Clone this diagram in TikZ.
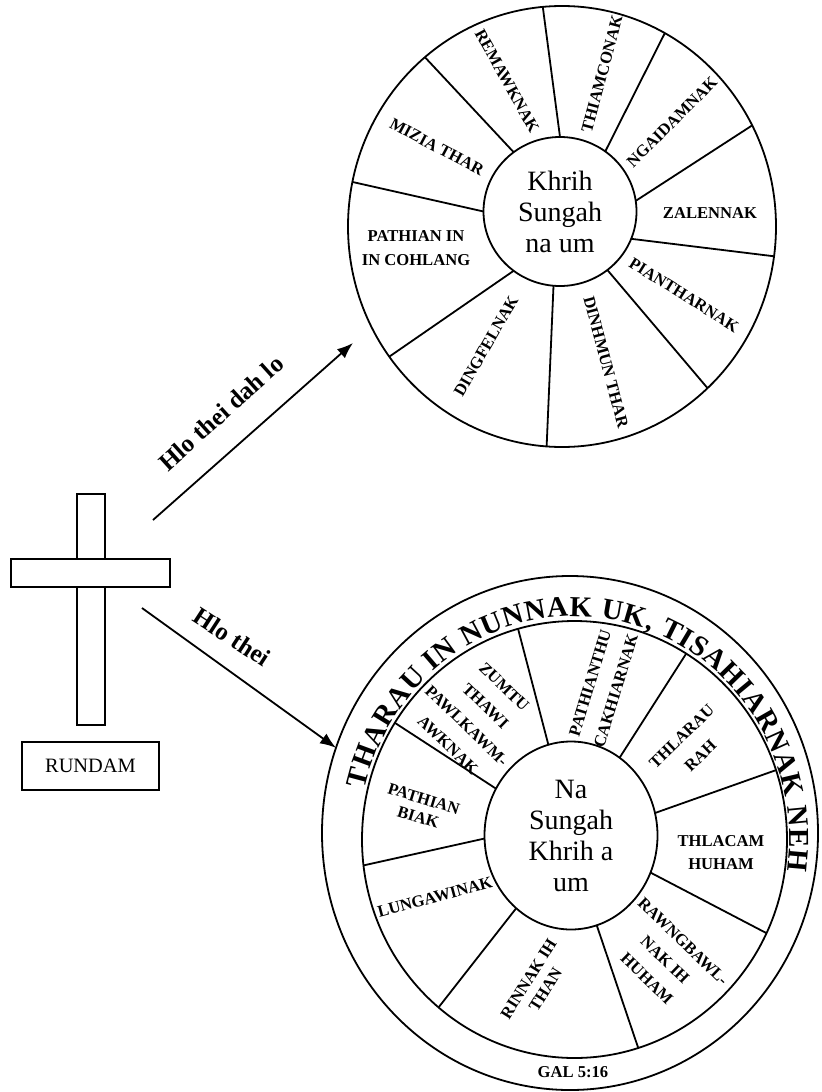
\documentclass[tikz,border=0pt]{standalone}
\usepackage{fontspec}
\setmainfont{Liberation Serif}
\usetikzlibrary{shapes.geometric,arrows.meta,decorations.text}

\begin{document}
\begin{tikzpicture}[x=0.5pt,y=-0.5pt,
  wheel/.style={draw,ellipse,inner sep=0pt,outer sep=0pt,line width=0.9pt,align=center,font=\fontsize{14}{15.5}\selectfont},
  seg/.style={font=\fontsize{8.3}{13.5}\selectfont\bfseries,align=center,inner sep=0pt},
  bar/.style={draw,fill=white,inner sep=0pt,line width=0.8pt},
  conn/.style={line width=0.9pt,-{Latex[length=8pt,width=6pt]}},
  arrowlabel/.style={font=\fontsize{12.5}{14}\selectfont\bfseries}]
  \useasboundingbox (0,0) rectangle (821,1092);

  % cross and its box
  \node[bar,minimum width=14pt,minimum height=115.5pt] (post) at (91,609.5) {};
  \node[bar,minimum width=79.5pt,minimum height=14pt] (beam) at (90.5,573) {};
  \node[draw,line width=0.8pt,minimum width=68.5pt,minimum height=24pt,inner sep=0pt,font=\fontsize{10.2}{12}\selectfont] (rundam) at (90.5,766) {RUNDAM};

  % upper wheel
  \node[wheel,minimum width=214pt,minimum height=220.5pt] (rimA) at (562,226.5) {};
  \node[wheel,minimum width=76.5pt,minimum height=74.5pt] (hubA) at (560,211.5) {Khrih\\Sungah\\na um};
  \foreach \a/\b in {90/95,53/62.5,8/28,-21/-8,-51/-48,-95/-94,-128/-143,180/168,128/129}
    \draw[line width=0.9pt] (hubA.\a) -- (rimA.\b);

  \node[seg,rotate=-61] (remaw) at (507,81) {REMAWKNAK};
  \node[seg,rotate=75] (thiam) at (602,74) {THIAMCONAK};
  \node[seg,rotate=45] (ngai) at (672,122) {NGAIDAMNAK};
  \node[seg] (zalen) at (710,213) {ZALENNAK};
  \node[seg,rotate=-32] (piant) at (684,295) {PIANTHARNAK};
  \node[seg,rotate=-75] (dinh) at (606,362) {DINHMUN THAR};
  \node[seg,rotate=60] (dingf) at (486,346) {DINGFELNAK};
  \node[seg,font=\fontsize{8.3}{12}\selectfont\bfseries] (cohlang) at (416,248) {PATHIAN IN\\IN COHLANG};
  \node[seg,rotate=-28] (mizia) at (437,147) {MIZIA THAR};

  % lower wheel
  \node[wheel,minimum width=248pt,minimum height=257pt] (rimB) at (570,833) {};
  \node[wheel,minimum width=212.5pt,minimum height=218.5pt] (ringB) at (574.5,839.5) {};
  \node[wheel,minimum width=86.5pt,minimum height=94pt] (hubB) at (571,835.5) {Na\\Sungah\\Khrih a\\um};
  \foreach \a/\b in {104.6/105.6,148.6/147.8,182.5/187,233/231.4,-74.2/-73,-25.7/-26.3,15.3/19.1,58.4/59.8}
    \draw[line width=0.9pt] (hubB.\a) -- (ringB.\b);

  \path[decorate,decoration={text along path,text align={fit to path},
    text={|\fontsize{14.5}{14.5}\selectfont\bfseries|THARAU IN NUNNAK UK, TISAHIARNAK NEH}}]
    (ringB) ++(-167:215 and 223) arc[start angle=-167,end angle=8,x radius=215,y radius=223];

  \node[seg,rotate=73] (pathianthu) at (603,687) {PATHIANTHU\\CAKHIARNAK};
  \node[seg,rotate=44] (thlarau) at (691,746) {THLARAU\\RAH};
  \node[seg,font=\fontsize{8.3}{11.5}\selectfont\bfseries] (thlacam) at (721,853) {THLACAM\\HUHAM};
  \node[seg,rotate=-44,font=\fontsize{8.3}{13}\selectfont\bfseries] (rawng) at (665,960) {RAWNGBAWL-\\NAK IH\\HUHAM};
  \node[seg,rotate=58,font=\fontsize{8.3}{10}\selectfont\bfseries] (rinnak) at (537,984) {RINNAK IH\\THAN};
  \node[seg,rotate=15] (lungawi) at (435,897) {LUNGAWINAK};
  \node[seg,rotate=-17,font=\fontsize{8.3}{9.5}\selectfont\bfseries] (biak) at (421,808) {PATHIAN\\BIAK};
  \node[seg,rotate=-44] (zumtu) at (476,716) {ZUMTU\\THAWI\\PAWLKAWM-\\AWKNAK};
  \node[seg] (gal) at (573,1072) {GAL 5:16};

  % arrows from the cross
  \coordinate (upstart) at (153,520);
  \coordinate (upend) at (353,343);
  \coordinate (downstart) at (142,608);
  \draw[conn] (upstart) -- (upend);
  \draw[conn] (downstart) -- (rimB.160);
  \node[arrowlabel,rotate=42] (uplabel) at (221,413) {Hlo thei dah lo};
  \node[arrowlabel,rotate=-33] (downlabel) at (232,637) {Hlo thei};
\end{tikzpicture}
\end{document}
